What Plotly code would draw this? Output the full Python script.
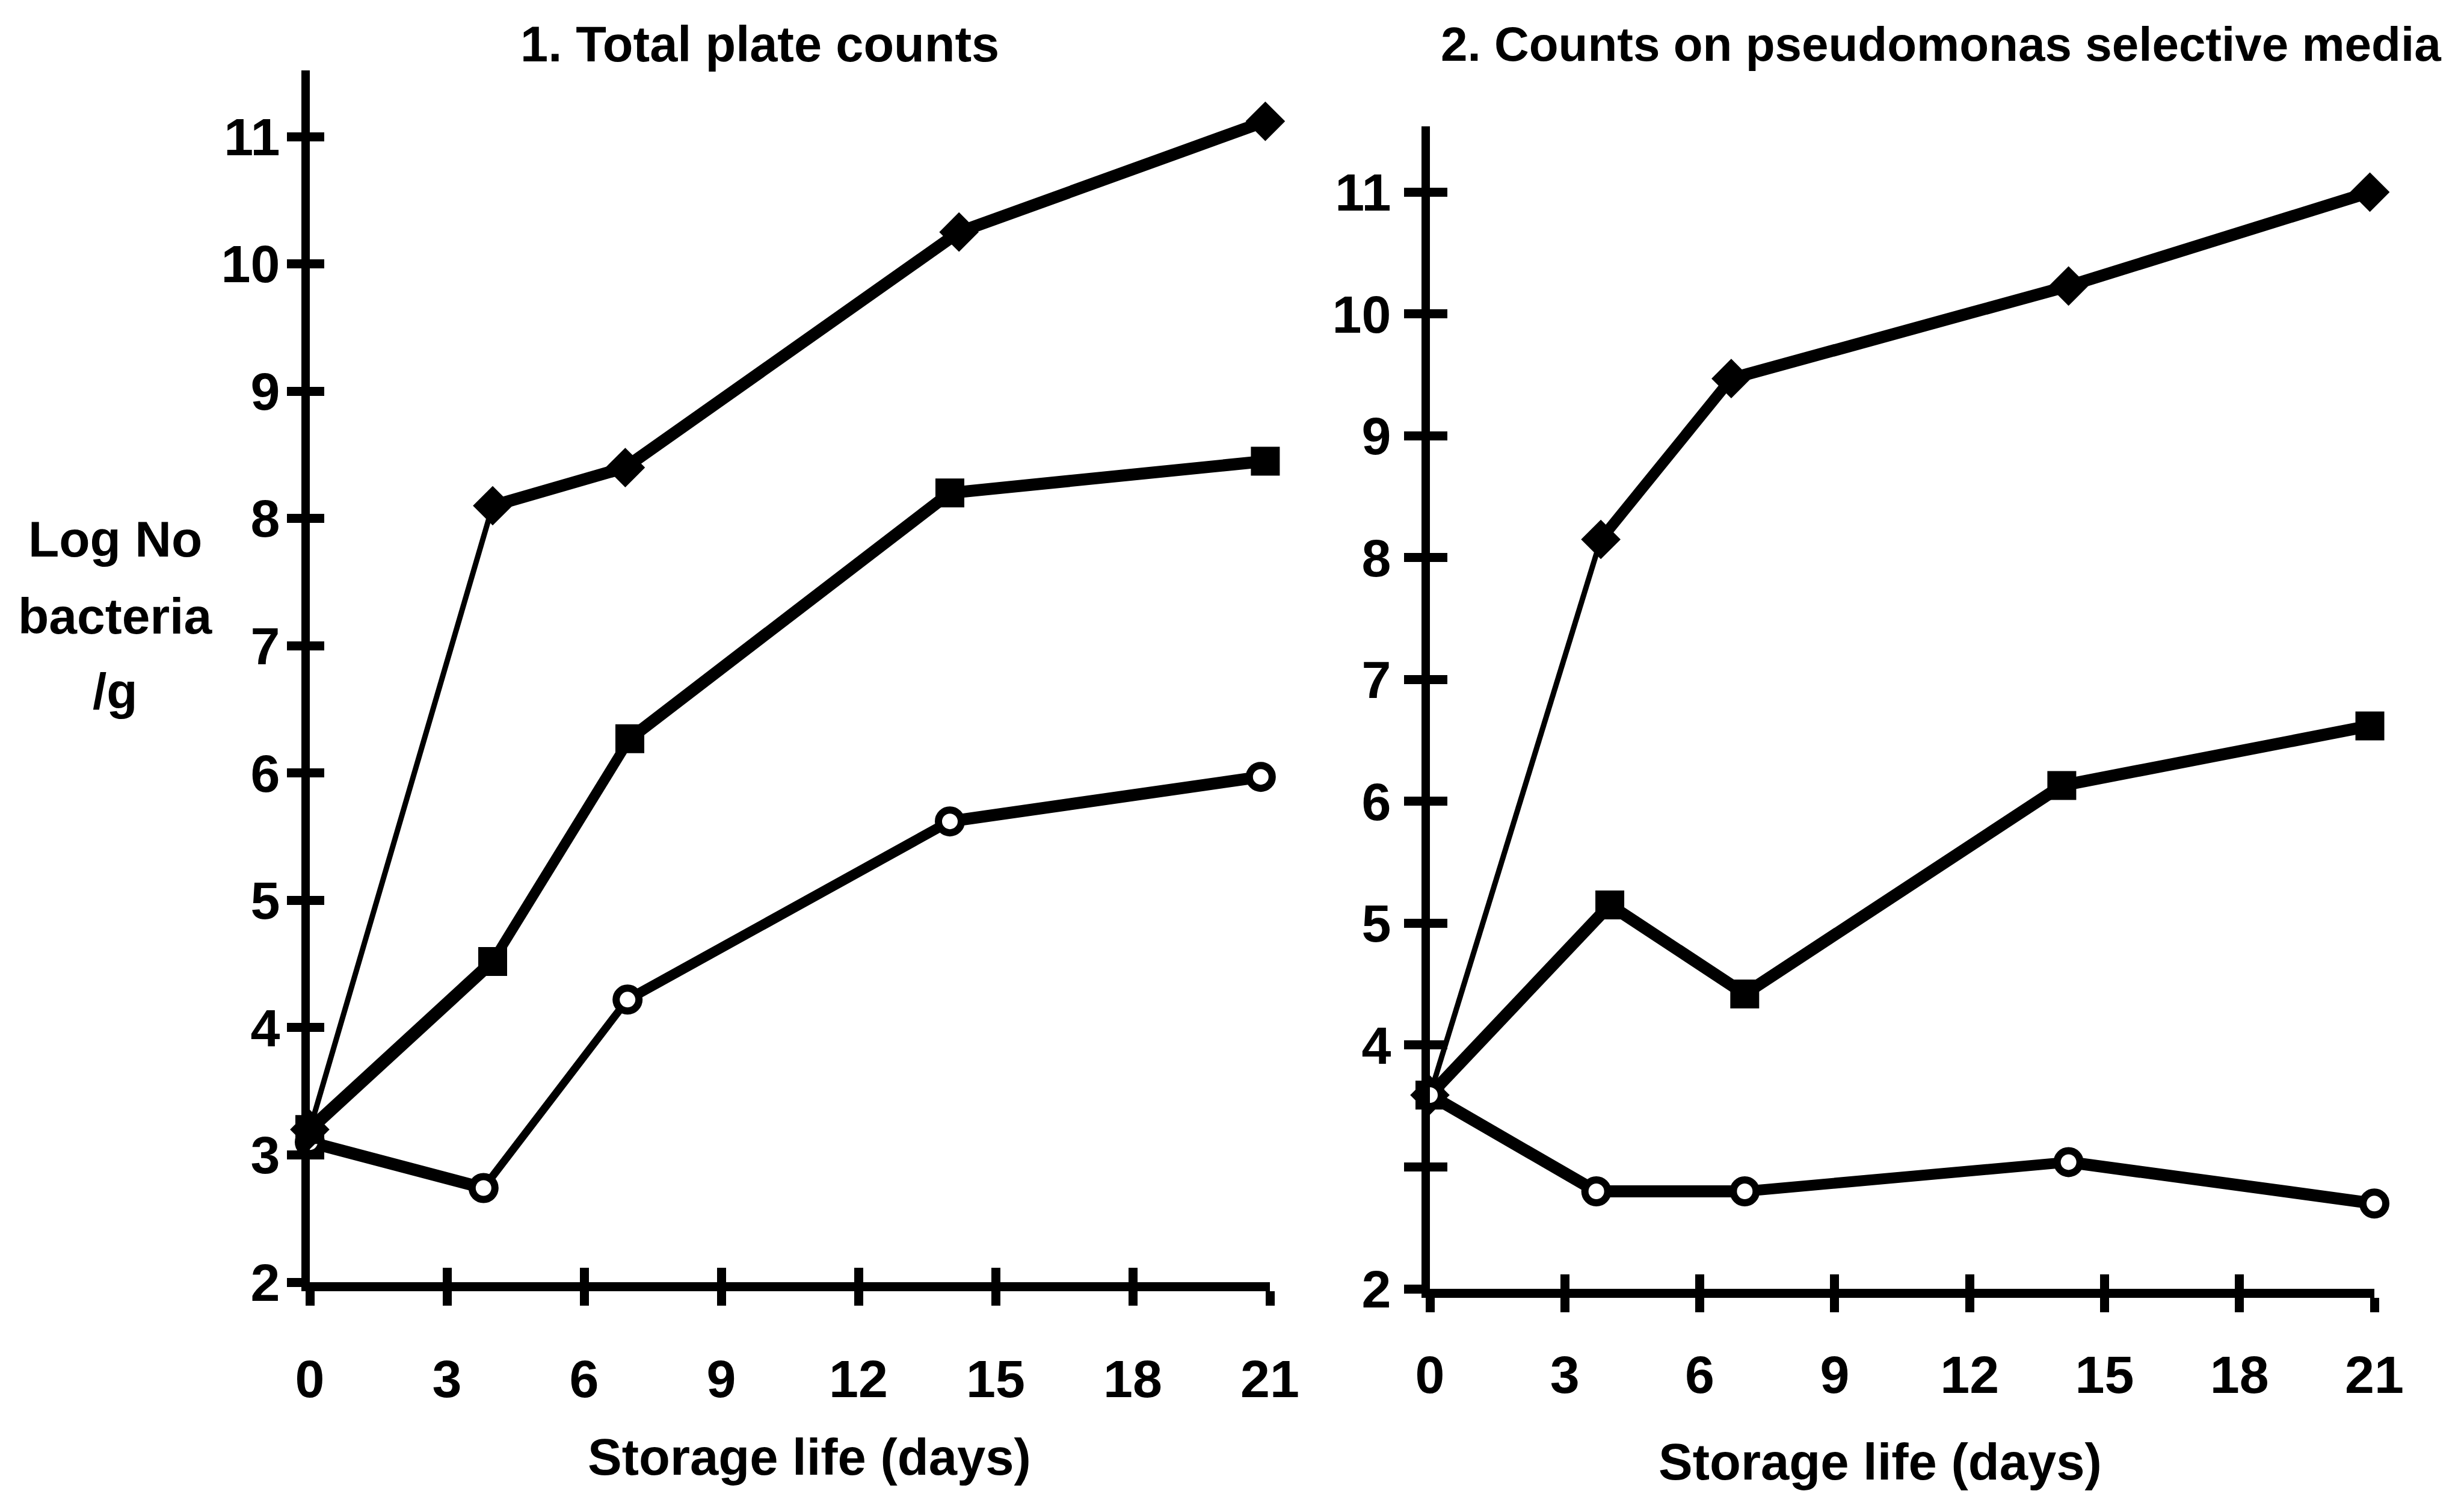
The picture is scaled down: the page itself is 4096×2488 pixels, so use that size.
import plotly.graph_objects as go

W, H = 4096, 2488

# ---- axis ticks -------------------------------------------------------
day_ticks = [0, 3, 6, 9, 12, 15, 18, 21]
day_text = [str(d) for d in day_ticks]
log_ticks = [2, 3, 4, 5, 6, 7, 8, 9, 10, 11]
left_log_text = [str(v) for v in log_ticks]
right_log_text = ["2", "", "4", "5", "6", "7", "8", "9", "10", "11"]

# ---- panel 1: total plate counts (log no. bacteria / g) ---------------
tpc_diamond_x = [0, 4, 6.9, 14.2, 20.9]
tpc_diamond_y = [3.2, 8.1, 8.4, 10.25, 11.12]
tpc_square_x = [0, 4, 7, 14, 20.9]
tpc_square_y = [3.2, 4.52, 6.27, 8.2, 8.45]
tpc_circle_x = [0, 3.8, 6.95, 14, 20.8]
tpc_circle_y = [3.1, 2.74, 4.22, 5.62, 5.97]

# ---- panel 2: counts on pseudomonas selective media -------------------
psm_diamond_x = [0, 3.8, 6.7, 14.2, 20.9]
psm_diamond_y = [3.59, 8.15, 9.47, 10.23, 11.0]
psm_square_x = [0, 4.0, 7.0, 14.05, 20.9]
psm_square_y = [3.59, 5.15, 4.42, 6.13, 6.62]
psm_circle_x = [0, 3.7, 7.0, 14.2, 21]
psm_circle_y = [3.59, 2.8, 2.8, 3.04, 2.7]

FONT = "Liberation Sans, Arial, Helvetica, sans-serif"
INK = "black"

# segment widths (px) for each polyline, first leg of the diamond series is thin
SEG_W = {
    "tpc_diamond": [9, 20, 20, 20],
    "tpc_square": [21, 17, 20, 20],
    "tpc_circle": [20, 13, 17, 20],
    "psm_diamond": [9, 18, 20, 20],
    "psm_square": [20, 20, 20, 20],
    "psm_circle": [20, 20, 18, 20],
}

MARKERS = {
    "diamond": dict(symbol="diamond", size=44, color=INK, line=dict(color=INK, width=6)),
    "square": dict(symbol="square", size=45, color=INK, line=dict(color=INK, width=3)),
    "circle": dict(symbol="circle", size=38, color="white", line=dict(color=INK, width=12)),
}


def px_x(p):
    return p / W


def px_y(p):
    return (H - p) / H


fig = go.Figure()


def add_series(xs, ys, key, kind, xa, ya):
    widths = SEG_W[key]
    for i in range(len(xs) - 1):
        fig.add_trace(go.Scatter(
            x=xs[i:i + 2], y=ys[i:i + 2], mode="lines",
            line=dict(color=INK, width=widths[i]),
            xaxis=xa, yaxis=ya, showlegend=False, hoverinfo="skip",
        ))
    fig.add_trace(go.Scatter(
        x=xs, y=ys, mode="markers", marker=MARKERS[kind],
        xaxis=xa, yaxis=ya, cliponaxis=False, showlegend=False,
    ))


# panel 1 (circle first so the square sits on top at day 0)
add_series(tpc_circle_x, tpc_circle_y, "tpc_circle", "circle", "x", "y")
add_series(tpc_diamond_x, tpc_diamond_y, "tpc_diamond", "diamond", "x", "y")
add_series(tpc_square_x, tpc_square_y, "tpc_square", "square", "x", "y")

# panel 2 (open circle drawn last, it covers the common start point)
add_series(psm_diamond_x, psm_diamond_y, "psm_diamond", "diamond", "x2", "y2")
add_series(psm_square_x, psm_square_y, "psm_square", "square", "x2", "y2")
add_series(psm_circle_x, psm_circle_y, "psm_circle", "circle", "x2", "y2")

# empty traces so the inner-tick overlay axes get rendered
fig.add_trace(go.Scatter(x=[None], y=[None], xaxis="x3", yaxis="y3", showlegend=False))
fig.add_trace(go.Scatter(x=[None], y=[None], xaxis="x4", yaxis="y4", showlegend=False))

tick_font = dict(family=FONT, size=88, color=INK, weight=700)

# plot-area boxes in pixels: (left, right, y at log 2, top of axis)
L_BOX = (515, 2111, 2131, 117)
R_BOX = (2377, 3947, 2142, 210)
L_YTOP = 11.52
R_YTOP = 11.54


def x_axis(box, inner=False, overlay=None, anchor="y", standoff=60, tlen=24):
    d = dict(
        domain=[px_x(box[0]), px_x(box[1])], range=[0, 21], anchor=anchor,
        tickmode="array", tickvals=day_ticks, ticktext=day_text,
        showgrid=False, zeroline=False, fixedrange=True, automargin=False,
        tickcolor=INK, tickwidth=15, ticklen=tlen,
    )
    if inner:
        d.update(overlaying=overlay, ticks="inside", showticklabels=False, showline=False)
    else:
        d.update(ticks="outside", showline=True, linecolor=INK, linewidth=15,
                 tickfont=tick_font, ticklabelstandoff=standoff)
    return d


def y_axis(box, ytop, text, inner=False, overlay=None, anchor="x", standoff=40, tlen=24):
    d = dict(
        domain=[px_y(box[2]), px_y(box[3])], range=[2, ytop], anchor=anchor,
        tickmode="array", tickvals=log_ticks, ticktext=text,
        showgrid=False, zeroline=False, fixedrange=True, automargin=False,
        tickcolor=INK, tickwidth=15, ticklen=tlen,
    )
    if inner:
        d.update(overlaying=overlay, ticks="inside", showticklabels=False, showline=False)
    else:
        d.update(ticks="outside", showline=True, linecolor=INK, linewidth=14,
                 tickfont=tick_font, ticklabelstandoff=standoff)
    return d


fig.update_layout(
    width=W, height=H,
    margin=dict(l=0, r=0, t=0, b=0, autoexpand=False),
    paper_bgcolor="white", plot_bgcolor="white",
    xaxis=x_axis(L_BOX, standoff=46),
    yaxis=y_axis(L_BOX, L_YTOP, left_log_text, standoff=-6),
    xaxis2=x_axis(R_BOX, anchor="y2", standoff=28),
    yaxis2=y_axis(R_BOX, R_YTOP, right_log_text, anchor="x2", standoff=4, tlen=29),
    xaxis3=x_axis(L_BOX, inner=True, overlay="x", anchor="y"),
    yaxis3=y_axis(L_BOX, L_YTOP, left_log_text, inner=True, overlay="y", anchor="x"),
    xaxis4=x_axis(R_BOX, inner=True, overlay="x2", anchor="y2"),
    yaxis4=y_axis(R_BOX, R_YTOP, right_log_text, inner=True, overlay="y2", anchor="x2", tlen=29),
    showlegend=False,
)


def label(text, x, y, size=84):
    fig.add_annotation(
        text=text, x=px_x(x), y=px_y(y), xref="paper", yref="paper",
        xanchor="center", yanchor="middle", showarrow=False,
        font=dict(family=FONT, size=size, color=INK, weight=700),
    )


label("1. Total plate counts", 1263, 73, size=83)
label("2. Counts on pseudomonas selective media", 3226, 73, size=80)
label("Log No", 191, 896)
label("bacteria", 191, 1024)
label("/g", 191, 1149)
label("Storage life (days)", 1345, 2421, size=85)
label("Storage life (days)", 3125, 2429, size=85)

fig.write_html("out.html")
